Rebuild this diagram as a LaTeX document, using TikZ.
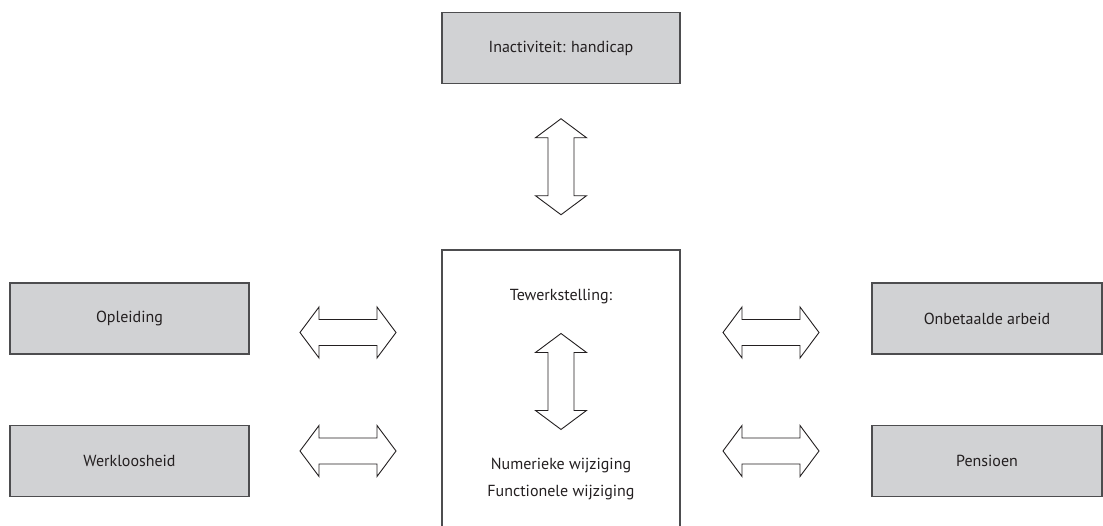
\documentclass[tikz,border=0pt]{standalone}
\usepackage{fontspec}
\setmainfont{PT Sans}
\usetikzlibrary{calc}
\definecolor{boxgrey}{HTML}{D1D2D4}
\definecolor{edgegrey}{HTML}{4D4D4F}
\definecolor{inkgrey}{HTML}{231F20}
\tikzset{
	statebox/.style={draw=edgegrey, line width=1.4pt, fill=boxgrey, text=inkgrey,
		minimum height=71pt, inner sep=0pt, font=\fontsize{16}{19}\selectfont},
	plain/.style={text=inkgrey, inner sep=0pt, font=\fontsize{16}{19}\selectfont},
	hdouble/.pic={
		\draw[draw=inkgrey, line width=0.9pt, fill=white, line join=miter]
			(-48,0) -- (-29,25.5) -- (-29,13) -- (29,13) -- (29,25.5) -- (48,0)
			-- (29,-25.5) -- (29,-13) -- (-29,-13) -- (-29,-25.5) -- cycle;
	},
}
\begin{document}
\begin{tikzpicture}[x=1pt,y=1pt]
	\useasboundingbox (0,0) rectangle (1103,526);
	\clip (0,0) rectangle (1103,526);
	% boxes
	\node[statebox, minimum width=238pt] (ina) at (561,478) {Inactiviteit: handicap};
	\node[draw=edgegrey, line width=1.4pt, minimum width=238pt, minimum height=310pt] (tew) at (561,121) {};
	\node[statebox, minimum width=239pt] (opl) at (129.5,207.5) {Opleiding};
	\node[statebox, minimum width=239pt] (wrk) at (129.5,65) {Werkloosheid};
	\node[statebox, minimum width=230pt] (onb) at (987,207.5) {Onbetaalde arbeid};
	\node[statebox, minimum width=230pt] (pen) at (987,65) {Pensioen};
	% text in the middle box
	\node[plain] (tewtitel) at (561,229) {Tewerkstelling:};
	\node[plain] (num) at (561,60) {Numerieke wijziging};
	\node[plain] (fun) at (561,33) {Functionele wijziging};
	% double arrows
	\pic[rotate=90] at ($(ina.south)!0.5!(tew.north)$) {hdouble};
	\pic[rotate=90] at ($(tewtitel.south)!0.5!(num.north)$) {hdouble};
	\pic at (348,193.5) {hdouble};
	\pic at (348,75) {hdouble};
	\pic at (771,193.5) {hdouble};
	\pic at (771,75) {hdouble};
\end{tikzpicture}
\end{document}
